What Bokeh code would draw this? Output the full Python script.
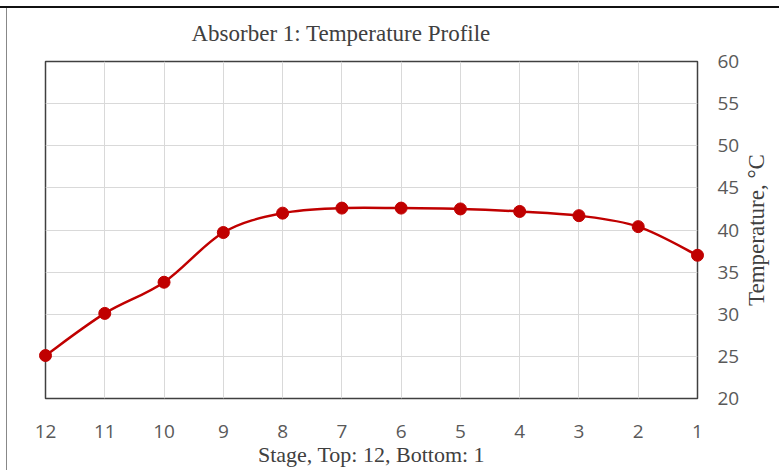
import math
from bokeh.plotting import figure
from bokeh.models import Range1d, FixedTicker, Title
from bokeh.embed import file_html
from bokeh.resources import INLINE

stages = [12, 11, 10, 9, 8, 7, 6, 5, 4, 3, 2, 1]
temps = [25.1, 30.1, 33.8, 39.7, 42.0, 42.6, 42.6, 42.5, 42.2, 41.7, 40.4, 37.0]
y_ticks = [20, 25, 30, 35, 40, 45, 50, 55, 60]

RED = "#C00000"
SANS = "Open Sans"
SERIF = "Liberation Serif"

p = figure(width=779, height=470, output_backend="svg", toolbar_location=None,
           x_range=Range1d(stages[0], stages[-1]), y_range=Range1d(y_ticks[0], y_ticks[-1]),
           min_border_left=45, min_border_right=82, min_border_top=61, min_border_bottom=72,
           y_axis_location="right")
p.styles = {"background": "linear-gradient(#111111,#111111) 0 6px / 100% 2px no-repeat, "
                          "linear-gradient(#888888,#888888) 6px 6px / 1px 100% no-repeat, white"}

p.outline_line_color = "#404040"
p.outline_line_width = 1.5
p.background_fill_color = "white"
p.border_fill_color = None

t = Title(text="Absorber 1: Temperature Profile", align="left", offset=146,
          vertical_align="bottom",
          text_font=SERIF, text_font_size="23px", text_font_style="normal",
          text_color="#404040", standoff=32)
p.title = t

xa = p.xaxis[0]
xa.ticker = FixedTicker(ticks=stages)
xa.axis_line_color = None
xa.major_tick_line_color = None
xa.minor_tick_line_color = None
xa.major_label_text_font = SANS
xa.major_label_text_font_size = "19px"
xa.major_label_text_color = "#595959"
xa.major_label_standoff = 20
xa.axis_label = "Stage, Top: 12, Bottom: 1"
xa.axis_label_text_font = SERIF
xa.axis_label_text_font_size = "22px"
xa.axis_label_text_font_style = "normal"
xa.axis_label_text_color = "#404040"
xa.axis_label_standoff = 1

ya = p.yaxis[0]
ya.ticker = FixedTicker(ticks=y_ticks)
ya.axis_line_color = None
ya.major_tick_line_color = None
ya.minor_tick_line_color = None
ya.major_label_text_font = SANS
ya.major_label_text_font_size = "19px"
ya.major_label_text_color = "#595959"
ya.major_label_standoff = 14

# y-axis title (reads bottom-to-top), placed one stage beyond the last one
p.text(x=[stages[-1] - 1], y=[(y_ticks[0] + y_ticks[-1]) / 2], text=["Temperature, \u00b0C"],
       angle=math.pi / 2, text_align="center", text_baseline="middle", level="overlay",
       text_font=SERIF, text_font_size="23px", text_color="#404040")

p.xgrid.ticker = FixedTicker(ticks=stages)
p.ygrid.ticker = FixedTicker(ticks=y_ticks)
p.xgrid.grid_line_color = "#D9D9D9"
p.ygrid.grid_line_color = "#D9D9D9"
p.xgrid.grid_line_width = 1
p.ygrid.grid_line_width = 1

# smoothed line (Catmull-Rom style Bezier through the data points)
n = len(stages)
x0, y0, x1, y1, cx0, cy0, cx1, cy1 = [], [], [], [], [], [], [], []
for i in range(n - 1):
    xp, yp = (stages[i - 1], temps[i - 1]) if i > 0 else (stages[i], temps[i])
    xa_, ya_ = stages[i], temps[i]
    xb, yb = stages[i + 1], temps[i + 1]
    xn, yn = (stages[i + 2], temps[i + 2]) if i + 2 < n else (xb, yb)
    x0.append(xa_); y0.append(ya_); x1.append(xb); y1.append(yb)
    cx0.append(xa_ + (xb - xp) / 6); cy0.append(ya_ + (yb - yp) / 6)
    cx1.append(xb - (xn - xa_) / 6); cy1.append(yb - (yn - ya_) / 6)

p.bezier(x0=x0, y0=y0, x1=x1, y1=y1, cx0=cx0, cy0=cy0, cx1=cx1, cy1=cy1,
         line_color=RED, line_width=2.5)
p.scatter(stages, temps, size=12, fill_color=RED, line_color=RED, level="overlay")

open("out.html", "w").write(file_html(p, INLINE))
